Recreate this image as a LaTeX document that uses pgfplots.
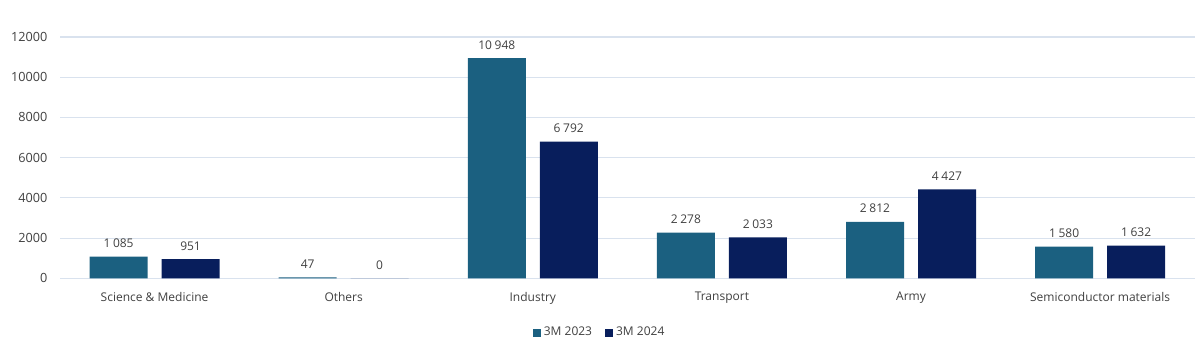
\documentclass[border=0pt]{standalone}
\usepackage{pgfplots}
\pgfplotsset{compat=1.18}
\usepackage{fontspec}
\setmainfont{Open Sans}
\definecolor{cA}{RGB}{27,96,128}
\definecolor{cB}{RGB}{8,30,92}
\definecolor{gridc}{RGB}{217,226,238}
\definecolor{txt}{RGB}{64,64,64}
\begin{document}
\begin{tikzpicture}
\path (-45pt,-52.5pt) rectangle (853.5pt,208.75pt);
\begin{axis}[
  scale only axis,
  width=851pt, height=181pt,
  xmin=-0.5, xmax=5.5,
  ymin=0, ymax=12000,
  ytick={0,2000,...,12000},
  xtick={0,1,2,3,4,5},
  xticklabels={Science \& Medicine, Others, Industry, Transport, Army, Semiconductor materials},
  axis line style={draw=none},
  major tick length=0pt,
  ymajorgrids=true, xmajorgrids=false,
  major grid style={draw=gridc, line width=0.8pt},
  ticklabel style={font=\fontsize{9}{11}\selectfont, text=txt},
  yticklabel style={font=\fontsize{9.5}{11}\selectfont},
  /pgf/number format/assume math mode=true,
  scaled y ticks=false,
  yticklabel={\pgfmathprintnumber[1000 sep={}]{\tick}},
  yticklabel shift=6pt,
  xticklabel shift=7pt,
  ybar, bar width=43.5pt,
  nodes near coords,
  point meta=explicit symbolic,
  every node near coord/.append style={font=\fontsize{9}{11}\selectfont, text=txt, anchor=south, yshift=3pt},
  legend columns=2,
  legend style={at={(0.476,-0.225)}, anchor=center, draw=none, font=\fontsize{9}{11}\selectfont, text=txt,
    /tikz/every even column/.append style={column sep=8pt}},
  legend image code/.code={\fill[#1] (0pt,-3pt) rectangle (6pt,3pt);},
]
\addplot[fill=cA, draw=none, bar shift=-27pt] coordinates {
  (0,1085) [1\hspace{0.22em}085]
  (1,47) [47]
  (2,10948) [10\hspace{0.22em}948]
  (3,2278) [2\hspace{0.22em}278]
  (4,2812) [2\hspace{0.22em}812]
  (5,1580) [1\hspace{0.22em}580]
};
\addplot[fill=cB, draw=none, bar shift=27pt] coordinates {
  (0,951) [951]
  (1,0) [0]
  (2,6792) [6\hspace{0.22em}792]
  (3,2033) [2\hspace{0.22em}033]
  (4,4427) [4\hspace{0.22em}427]
  (5,1632) [1\hspace{0.22em}632]
};
\legend{3M 2023, 3M 2024}
\end{axis}
\end{tikzpicture}
\end{document}
